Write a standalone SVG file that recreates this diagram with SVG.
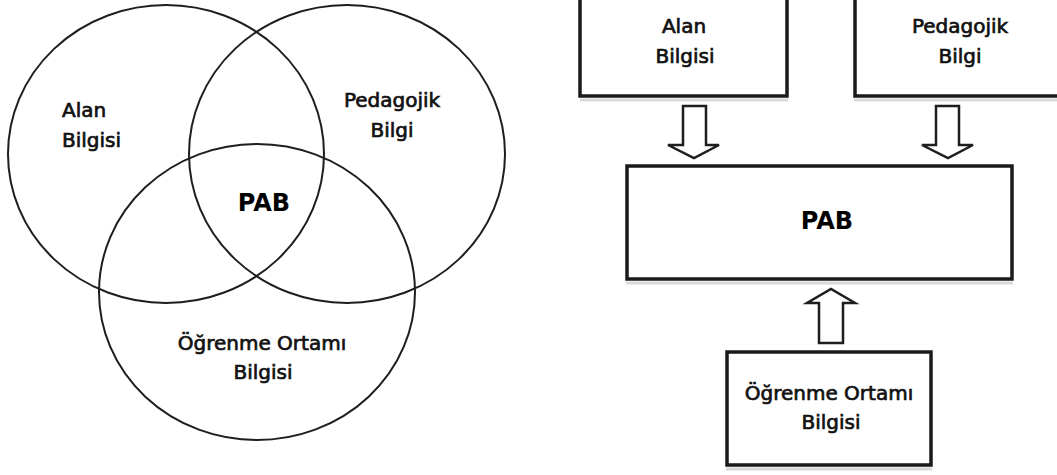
<svg xmlns="http://www.w3.org/2000/svg" width="1057" height="475" viewBox="0 0 1057 475">
<style>
.circ{fill:none;stroke:#1e1e1e;stroke-width:2}
.box{fill:#fff;stroke:#1a1a1a;stroke-width:3.5}
.shadow{fill:none;stroke:#d9d9d9;stroke-width:3}
.arrow{fill:#fff;stroke:#1e1e1e;stroke-width:2.5;stroke-linejoin:miter}
.t{font-family:"DejaVu Sans",sans-serif;font-size:20px;fill:#111;stroke:#111;stroke-width:0.7;text-anchor:middle}
.tl{font-family:"DejaVu Sans",sans-serif;font-size:20px;fill:#111;stroke:#111;stroke-width:0.7}
.b{font-family:"DejaVu Sans",sans-serif;font-size:24px;font-weight:bold;fill:#000;text-anchor:middle}
</style>
<rect width="1057" height="475" fill="#fff"/>
<g id="venn-alan">
<ellipse class="circ" cx="166" cy="154" rx="158" ry="149"/>
<text class="tl" x="62" y="117">Alan</text>
<text class="tl" x="62" y="147">Bilgisi</text>
</g>
<g id="venn-pedagojik">
<ellipse class="circ" cx="347" cy="154" rx="158" ry="149"/>
<text class="t" x="392" y="107">Pedagojik</text>
<text class="t" x="392" y="137">Bilgi</text>
</g>
<g id="venn-ogrenme">
<ellipse class="circ" cx="257" cy="292" rx="158" ry="148"/>
<text class="t" x="262" y="350">Öğrenme Ortamı</text>
<text class="t" x="263" y="379">Bilgisi</text>
</g>
<g id="venn-pab">
<text class="b" x="264" y="211">PAB</text>
</g>
<g id="box-alan">
<line class="shadow" x1="580" y1="100" x2="788" y2="100"/>
<rect class="box" x="580" y="-5" width="207" height="101"/>
<text class="t" x="684" y="33">Alan</text>
<text class="t" x="685" y="63">Bilgisi</text>
</g>
<g id="box-pedagojik">
<line class="shadow" x1="854" y1="100" x2="1060" y2="100"/>
<rect class="box" x="855" y="-5" width="210" height="101"/>
<text class="t" x="960" y="33">Pedagojik</text>
<text class="t" x="960" y="63">Bilgi</text>
</g>
<g id="box-pab">
<line class="shadow" x1="626" y1="283" x2="1013" y2="283"/>
<rect class="box" x="627" y="166" width="385" height="113"/>
<text class="b" x="827" y="229">PAB</text>
</g>
<g id="box-ogrenme">
<line class="shadow" x1="726" y1="469" x2="932" y2="469"/>
<rect class="box" x="727" y="352" width="204" height="113"/>
<text class="t" x="829" y="400">Öğrenme Ortamı</text>
<text class="t" x="831" y="429">Bilgisi</text>
</g>
<g id="connectors">
<polygon class="arrow" points="683,106 706,106 706,145 719,145 694,158 668,145 683,145"/>
<polygon class="arrow" points="936,106 959,106 959,145 973,145 948,158 922,145 936,145"/>
<polygon class="arrow" points="819,343 843,343 843,303 855,303 831,289 807,303 819,303"/>
</g>
</svg>
